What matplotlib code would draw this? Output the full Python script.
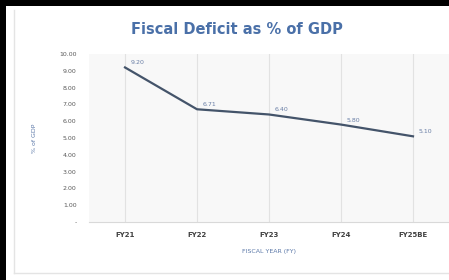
import matplotlib
matplotlib.use("Agg")
import matplotlib.pyplot as plt
from matplotlib.patches import Rectangle
from matplotlib.lines import Line2D

categories = ["FY21", "FY22", "FY23", "FY24", "FY25BE"]
deficit = [9.20, 6.71, 6.40, 5.80, 5.10]
ytick_vals = [0, 1, 2, 3, 4, 5, 6, 7, 8, 9, 10]
ytick_labels = ["-", "1.00", "2.00", "3.00", "4.00", "5.00", "6.00", "7.00", "8.00", "9.00", "10.00"]

W, H = 449, 280
fig = plt.figure(figsize=(W / 100, H / 100), dpi=100, facecolor="black")

# white canvas with black strip on top/left
fig.patches.append(Rectangle((6 / W, 0), 1, 1 - 6 / H, transform=fig.transFigure,
                             facecolor="white", edgecolor="none", zorder=-10))
# light chart frame
fig.lines.append(Line2D([14 / W, 14 / W], [1 - 273 / H, 1 - 10 / H], transform=fig.transFigure,
                        color="#e4e4e4", lw=1, zorder=-5))
fig.lines.append(Line2D([14 / W, 1], [1 - 273 / H, 1 - 273 / H], transform=fig.transFigure,
                        color="#e4e4e4", lw=1, zorder=-5))

ax = fig.add_axes([89 / W, 1 - 222 / H, 1 - 89 / W, (222 - 54) / H])
ax.set_zorder(1)
ax.set_facecolor("#f8f8f8")
x = list(range(len(categories)))
ax.plot(x, deficit, color="#44546a", lw=1.6, zorder=3)
for xi, v in zip(x, deficit):
    ax.text(xi + 0.08, v + 0.12, f"{v:.2f}", fontsize=4.5, color="#6a7fa6",
            ha="left", va="bottom", zorder=4)

ax.set_xlim(-0.5, len(categories) - 0.5)
ax.set_ylim(0, 10)
ax.set_xticks(x)
ax.set_xticklabels(categories, fontsize=5, fontweight="bold", color="#404040")
ax.set_yticks(ytick_vals)
ax.set_yticklabels(ytick_labels, fontsize=4.5, color="#595959")
ax.tick_params(length=0, pad=7)
ax.tick_params(axis="y", pad=9)
ax.grid(axis="x", color="#e2e2e2", lw=0.8)
for s in ["top", "right", "left"]:
    ax.spines[s].set_visible(False)
ax.spines["bottom"].set_color("#d9d9d9")

ax.set_xlabel("FISCAL YEAR (FY)", fontsize=4.5, color="#5b78a8", labelpad=8)
ax.set_ylabel("% of GDP", fontsize=4.5, color="#5b78a8", labelpad=16)

fig.text(237 / W, 1 - 30 / H, "Fiscal Deficit as % of GDP", fontsize=10.5, fontweight="bold",
         color="#4a70a8", ha="center", va="center")

fig.savefig("out.png", dpi=100, facecolor=fig.get_facecolor())
